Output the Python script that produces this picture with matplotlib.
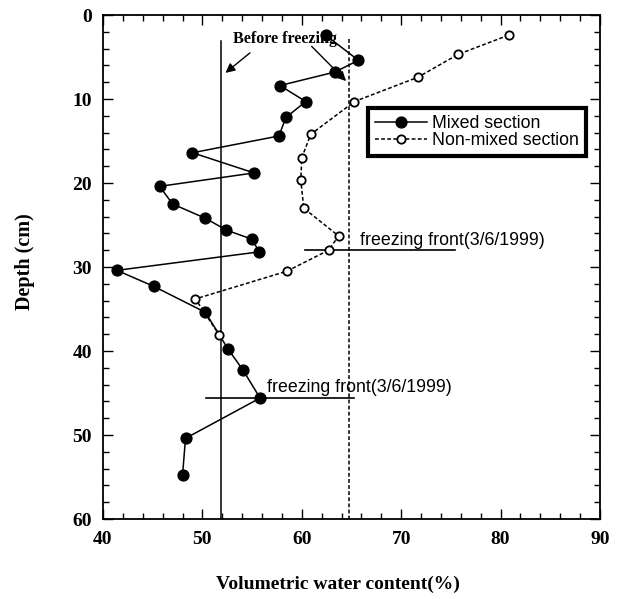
import matplotlib
matplotlib.use("Agg")
import matplotlib.pyplot as plt
from matplotlib.ticker import MultipleLocator

# Mixed section (filled circles)
mixed_wc = [62.4, 65.7, 63.3, 57.8, 60.4, 58.4, 57.7, 49.0, 55.2, 45.7, 47.0, 50.3,
            52.4, 55.0, 55.7, 41.4, 45.1, 50.3, 52.6, 54.1, 55.8, 48.3, 48.0]
mixed_depth = [2.4, 5.4, 6.8, 8.4, 10.3, 12.2, 14.4, 16.4, 18.8, 20.4, 22.5, 24.2,
               25.6, 26.7, 28.2, 30.4, 32.3, 35.4, 39.8, 42.3, 45.6, 50.4, 54.8]

# Non-mixed section (open circles)
nonmixed_wc = [80.8, 75.7, 71.7, 65.3, 60.9, 60.0, 59.9, 60.2, 63.7, 62.7, 58.5, 49.3, 51.7]
nonmixed_depth = [2.4, 4.7, 7.4, 10.3, 14.2, 17.0, 19.7, 23.0, 26.3, 28.0, 30.5, 33.8, 38.1]

# Before-freezing reference lines
before_mixed = 51.9
before_nonmixed = 64.7
before_top = 3.1

# Freezing fronts
front_upper = {"depth": 28.0, "x0": 60.3, "x1": 75.4}
front_lower = {"depth": 45.6, "x0": 50.4, "x1": 65.3}
front_label = "freezing front(3/6/1999)"

x_ticks = [40, 50, 60, 70, 80, 90]
y_ticks = [0, 10, 20, 30, 40, 50, 60]

fig = plt.figure(figsize=(6.18, 5.99), dpi=100)
ax = fig.add_axes([103/618, 1-519/599, 497/618, 504/599])

serif = ["Liberation Serif", "DejaVu Serif"]
sans = ["Liberation Sans", "DejaVu Sans"]

ax.plot(mixed_wc, mixed_depth, "-", color="black", lw=1.1, marker="o",
        ms=7.8, mfc="black", mec="black", label="Mixed section", zorder=4)
ax.plot(nonmixed_wc, nonmixed_depth, linestyle=(0, (2.5, 1.5)), color="black", lw=1.1,
        marker="o", ms=6, mfc="white", mec="black", mew=1.3,
        label="Non-mixed section", zorder=4)

ax.plot([before_mixed, before_mixed], [before_top, 60], "-", color="black", lw=1.1, zorder=3)
ax.plot([before_nonmixed, before_nonmixed], [2.9, 60], linestyle=(0, (2.5, 1.5)),
        color="black", lw=1.1, zorder=3)

for fr in (front_upper, front_lower):
    ax.plot([fr["x0"], fr["x1"]], [fr["depth"], fr["depth"]], "-", color="black", lw=1.2, zorder=3)

ax.text(65.9, 26.8, front_label, family=sans, fontsize=12.8, va="center", ha="left")
ax.text(56.5, 44.3, front_label, family=sans, fontsize=12.8, va="center", ha="left")

ax.text(53.1, 2.9, "Before freezing", family=serif, fontweight="bold", fontsize=11.6,
        va="center", ha="left", zorder=5)
ax.annotate("", xy=(52.1, 7.1), xytext=(55.0, 4.3),
            arrowprops=dict(arrowstyle="-|>", color="black", lw=1.0, mutation_scale=14))
ax.annotate("", xy=(64.65, 8.1), xytext=(60.8, 3.5),
            arrowprops=dict(arrowstyle="-|>", color="black", lw=1.0, mutation_scale=14))

ax.set_xlim(40, 90)
ax.set_ylim(60, 0)
ax.set_xticks(x_ticks)
ax.set_yticks(y_ticks)
ax.xaxis.set_minor_locator(MultipleLocator(2))
ax.yaxis.set_minor_locator(MultipleLocator(2))
ax.tick_params(which="both", direction="in", top=True, right=True, color="black", width=1.0)
ax.tick_params(which="major", length=7)
ax.tick_params(which="minor", length=4)
ax.tick_params(axis="x", which="major", pad=9)
ax.tick_params(axis="y", which="major", pad=8)
for lab in ax.get_xticklabels() + ax.get_yticklabels():
    lab.set_family(serif)
    lab.set_fontweight("bold")
    lab.set_fontsize(14)
for sp in ax.spines.values():
    sp.set_linewidth(1.3)

fig.text(338/618, 1-584/599, "Volumetric water content(%)", family=serif, fontweight="bold",
         fontsize=14, ha="center", va="center")
fig.text(25/618, 1-262/599, "Depth (cm)", family=serif, fontweight="bold",
         fontsize=14.5, ha="center", va="center", rotation=90)

leg = ax.legend(loc="upper left", bbox_to_anchor=(0.533, 0.815), prop={"family": sans, "size": 12.8},
                frameon=True, fancybox=False, edgecolor="black", framealpha=1,
                handlelength=2.9, handletextpad=0.3, borderpad=0.4, labelspacing=0.0,
                borderaxespad=0)
leg.get_frame().set_linewidth(3.0)

fig.savefig("out.png", dpi=100)
